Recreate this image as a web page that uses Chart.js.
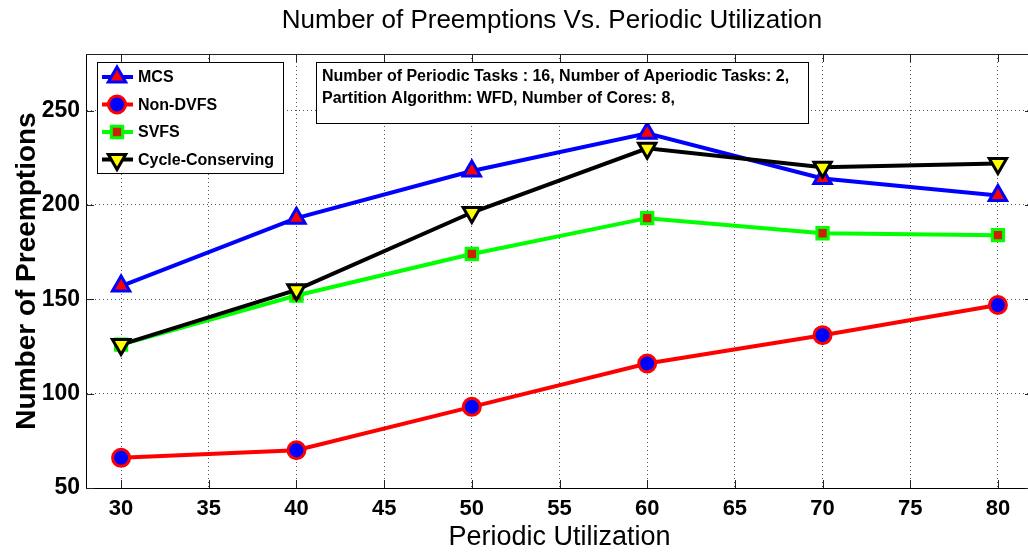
<!DOCTYPE html>
<html>
<head>
<meta charset="utf-8">
<script src="https://cdn.jsdelivr.net/npm/chart.js@4.4.1/dist/chart.umd.min.js"></script>
<style>
  html, body { margin: 0; padding: 0; background: #fff; overflow: hidden; }
  canvas { display: block; }
</style>
</head>
<body>
<canvas id="chart" width="1046" height="552"></canvas>
<script>
// values
const utilization = [30, 40, 50, 60, 70, 80];
const mcs = [157, 193, 218, 238, 214, 205];
const nonDvfs = [66, 70, 93, 116, 131, 147];
const svfs = [126, 152, 174, 193, 185, 184];
const cycleConserving = [126, 155, 196, 230, 220, 222];

const xTicks = [30, 35, 40, 45, 50, 55, 60, 65, 70, 75, 80];
const yTicks = [50, 100, 150, 200, 250];

const chartTitle = 'Number of Preemptions Vs. Periodic Utilization';
const noteLines = [
  'Number of Periodic Tasks : 16, Number of Aperiodic Tasks: 2,',
  'Partition Algorithm: WFD, Number of Cores: 8,'
];

const FONT = '"Liberation Sans", Arial, Helvetica, sans-serif';

function toPoints(values) {
  return values.map((v, i) => ({x: utilization[i], y: v}));
}

// tick marks, box, title, legend and note box (MATLAB look)
const matlabFrame = {
  id: 'matlabFrame',
  afterDraw(chart) {
    const {ctx, chartArea: a, scales: {x, y}} = chart;
    ctx.save();

    ctx.strokeStyle = '#222';
    ctx.lineWidth = 1;
    ctx.setLineDash([]);
    ctx.beginPath();
    xTicks.forEach(v => {
      const px = Math.round(x.getPixelForValue(v)) + 0.5;
      ctx.moveTo(px, a.bottom); ctx.lineTo(px, a.bottom - 8);
      ctx.moveTo(px, a.top); ctx.lineTo(px, a.top + 8);
    });
    yTicks.forEach(v => {
      const py = Math.round(y.getPixelForValue(v)) + 0.5;
      ctx.moveTo(a.left, py); ctx.lineTo(a.left + 8, py);
      ctx.moveTo(a.right, py); ctx.lineTo(a.right - 8, py);
    });
    ctx.stroke();

    // top and right edges of the box
    ctx.beginPath();
    ctx.moveTo(a.left, Math.round(a.top) + 0.5);
    ctx.lineTo(a.right, Math.round(a.top) + 0.5);
    ctx.lineTo(a.right, a.bottom);
    ctx.stroke();

    // title
    ctx.fillStyle = '#000';
    ctx.font = '26px ' + FONT;
    ctx.textAlign = 'center';
    ctx.textBaseline = 'middle';
    ctx.fillText(chartTitle, 552, 21);

    // legend
    const lg = {x: 97, y: 62, w: 186, h: 111};
    ctx.fillStyle = '#fff';
    ctx.fillRect(lg.x, lg.y, lg.w, lg.h);
    ctx.strokeStyle = '#000';
    ctx.strokeRect(lg.x + 0.5, lg.y + 0.5, lg.w, lg.h);
    ctx.font = 'bold 16px ' + FONT;
    ctx.textAlign = 'left';
    chart.data.datasets.forEach((ds, i) => {
      const ry = 77 + i * 27.5;
      ctx.strokeStyle = ds.borderColor;
      ctx.lineWidth = ds.borderWidth;
      ctx.beginPath();
      ctx.moveTo(102, ry); ctx.lineTo(133, ry);
      ctx.stroke();
      ctx.fillStyle = ds.pointBackgroundColor;
      ctx.strokeStyle = ds.pointBorderColor;
      ctx.lineWidth = ds.pointBorderWidth;
      Chart.helpers.drawPoint(ctx, {
        pointStyle: ds.pointStyle,
        rotation: ds.pointRotation || 0,
        radius: ds.pointRadius,
        borderWidth: ds.pointBorderWidth
      }, 117, ry);
      ctx.fillStyle = '#000';
      ctx.fillText(ds.label, 138, ry + 1);
    });

    // note box
    const nb = {x: 316, y: 62, w: 492, h: 61};
    ctx.fillStyle = '#fff';
    ctx.fillRect(nb.x, nb.y, nb.w, nb.h);
    ctx.strokeStyle = '#000';
    ctx.lineWidth = 1;
    ctx.strokeRect(nb.x + 0.5, nb.y + 0.5, nb.w, nb.h);
    ctx.fillStyle = '#000';
    ctx.font = 'bold 16px ' + FONT;
    noteLines.forEach((t, i) => ctx.fillText(t, 322, 77 + i * 22));

    ctx.restore();
  }
};

new Chart(document.getElementById('chart'), {
  type: 'line',
  data: {
    datasets: [
      {
        label: 'MCS', data: toPoints(mcs), order: 4,
        borderColor: '#0000ff', borderWidth: 4,
        pointStyle: 'triangle', pointRadius: 10, pointBorderWidth: 3,
        pointBackgroundColor: '#ff0000', pointBorderColor: '#0000ff'
      },
      {
        label: 'Non-DVFS', data: toPoints(nonDvfs), order: 3,
        borderColor: '#ff0000', borderWidth: 4,
        pointStyle: 'circle', pointRadius: 8.5, pointBorderWidth: 3,
        pointBackgroundColor: '#0000ff', pointBorderColor: '#ff0000'
      },
      {
        label: 'SVFS', data: toPoints(svfs), order: 2,
        borderColor: '#00ff00', borderWidth: 4,
        pointStyle: 'rect', pointRadius: 8, pointBorderWidth: 3,
        pointBackgroundColor: '#cc2200', pointBorderColor: '#00ff00'
      },
      {
        label: 'Cycle-Conserving', data: toPoints(cycleConserving), order: 1,
        borderColor: '#000000', borderWidth: 4,
        pointStyle: 'triangle', pointRotation: 180, pointRadius: 10, pointBorderWidth: 3,
        pointBackgroundColor: '#ffff00', pointBorderColor: '#000000'
      }
    ]
  },
  options: {
    responsive: false,
    animation: false,
    events: [],
    layout: {padding: {left: 0, right: 0, top: 54, bottom: 0}},
    elements: {line: {tension: 0, fill: false}},
    plugins: {legend: {display: false}, tooltip: {enabled: false}, title: {display: false}},
    scales: {
      x: {
        type: 'linear', min: 28, max: 82,
        afterBuildTicks: s => { s.ticks = xTicks.map(v => ({value: v})); },
        afterFit: s => { s.height = 64; },
        grid: {color: '#555', drawTicks: false},
        border: {display: true, color: '#000', width: 1, dash: [1, 3]},
        ticks: {
          color: '#000', padding: 8, autoSkip: false, maxRotation: 0,
          font: {family: FONT, size: 22, weight: 'bold'}
        },
        title: {
          display: true, text: 'Periodic Utilization', color: '#000',
          font: {family: FONT, size: 27}, padding: {top: 0, bottom: -2}
        }
      },
      y: {
        min: 50, max: 280,
        afterBuildTicks: s => { s.ticks = yTicks.map(v => ({value: v})); },
        afterFit: s => { s.width = 86; },
        grid: {color: '#555', drawTicks: false},
        border: {display: true, color: '#000', width: 1, dash: [1, 3]},
        ticks: {
          color: '#000', padding: 6,
          font: {family: FONT, size: 23, weight: 'bold'}
        },
        title: {
          display: true, text: 'Number of Preemptions', color: '#000',
          font: {family: FONT, size: 28, weight: 'bold'}, padding: {top: 10, bottom: 0}
        }
      }
    }
  },
  plugins: [matlabFrame]
});
</script>
</body>
</html>
